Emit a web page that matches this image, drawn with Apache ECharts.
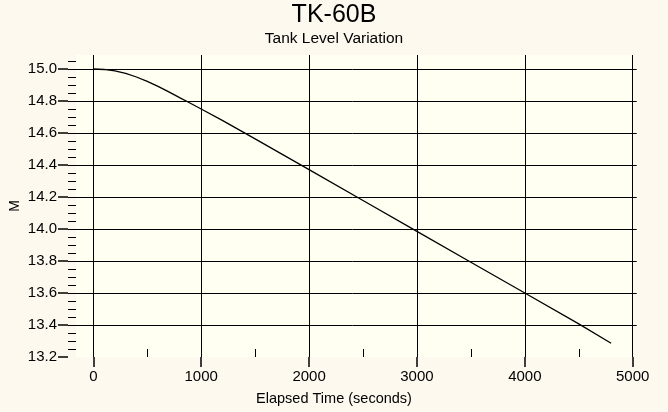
<!DOCTYPE html>
<html>
<head>
<meta charset="utf-8">
<script src="https://cdn.jsdelivr.net/npm/echarts@6/dist/echarts.min.js"></script>
<style>
  html, body { margin: 0; padding: 0; background: #fdf9ef; }
  #chart { width: 668px; height: 412px; }
</style>
</head>
<body>
<div id="chart"></div>
<script>
// Texts
const chartTitle = 'TK-60B';
const chartSubtitle = 'Tank Level Variation';
const xAxisTitle = 'Elapsed Time (seconds)';
const yAxisTitle = 'M';

// Tank level (m) over elapsed time (s)
const elapsedSeconds = [0, 100, 200, 300, 400, 500, 600, 700, 800, 900, 1000, 1200, 1500, 2000, 2500, 3000, 3500, 4000, 4500, 4800];
const tankLevel = [15.000, 14.997, 14.988, 14.972, 14.950, 14.923, 14.891, 14.857, 14.821, 14.786, 14.750, 14.677, 14.563, 14.371, 14.178, 13.985, 13.792, 13.600, 13.407, 13.286];

// Axis scales
const xMin = 0, xMax = 5000, xStep = 1000, xMinorStep = 500;
const yMin = 13.2, yMax = 15.0, yStep = 0.2, yMinorStep = 0.05;
const yMinorMin = 13.25, yMinorMax = 15.05;
const yPlotTop = 15.0875;

const FONT = '"Liberation Sans", Arial, sans-serif';
const INK = '#000';

const chart = echarts.init(document.getElementById('chart'));

chart.setOption({
  animation: false,
  backgroundColor: '#fdf9ef',
  textStyle: { fontFamily: FONT, color: INK },
  title: [
    {
      text: chartTitle,
      subtext: chartSubtitle,
      left: 'center',
      top: -2,
      itemGap: 3,
      textStyle: { fontFamily: FONT, fontSize: 25, fontWeight: 'normal', color: INK },
      subtextStyle: { fontFamily: FONT, fontSize: 15.5, color: INK }
    },
    {
      text: xAxisTitle,
      left: 'center',
      top: 386,
      textStyle: { fontFamily: FONT, fontSize: 14.5, fontWeight: 'normal', color: INK }
    }
  ],
  grid: [
    // plot background
    { left: 68, right: 35.3, top: 55, bottom: 55, show: true, backgroundColor: '#fffff2', borderWidth: 0 },
    // data area
    { left: 93.3, right: 35.3, top: 55, bottom: 55 },
    // horizontal rules + level labels
    { left: 68, right: 31.3, top: 69, bottom: 55 },
    // minor level ticks
    { left: 68, right: 31.3, top: 61, bottom: 63 }
  ],
  xAxis: [
    { gridIndex: 0, type: 'value', show: false },
    {
      gridIndex: 1, type: 'value', min: xMin, max: xMax, interval: xStep,
      axisLine: { show: false },
      axisTick: { show: true, length: 10, lineStyle: { color: INK, width: 1.5 } },
      axisLabel: { fontFamily: FONT, fontSize: 15, color: INK, margin: 12,
        formatter: v => String(v) },
      splitLine: { show: true, lineStyle: { color: INK, width: 1 } }
    },
    {
      gridIndex: 1, type: 'value', min: xMin, max: xMax, interval: xMinorStep, position: 'bottom',
      axisLine: { show: false },
      axisTick: { show: true, inside: true, length: 8, lineStyle: { color: INK, width: 1 } },
      axisLabel: { show: false },
      splitLine: { show: false }
    },
    { gridIndex: 2, type: 'value', show: false },
    { gridIndex: 3, type: 'value', show: false }
  ],
  yAxis: [
    {
      gridIndex: 0, type: 'value', min: yMin, max: yPlotTop,
      name: yAxisTitle, nameLocation: 'middle', nameGap: 54, nameRotate: 90,
      nameTextStyle: { fontFamily: FONT, fontSize: 14, color: INK },
      axisLine: { show: false }, axisTick: { show: false },
      axisLabel: { show: false }, splitLine: { show: false }
    },
    { gridIndex: 1, type: 'value', min: yMin, max: yPlotTop, show: false },
    {
      gridIndex: 2, type: 'value', min: yMin, max: yMax, interval: yStep,
      axisLine: { show: false },
      axisTick: { show: true, length: 10, lineStyle: { color: INK, width: 1.5 } },
      axisLabel: { fontFamily: FONT, fontSize: 15, color: INK, margin: 11,
        formatter: v => v.toFixed(1) },
      splitLine: { show: true, showMinLine: false, lineStyle: { color: INK, width: 1 } }
    },
    {
      gridIndex: 3, type: 'value', min: yMinorMin, max: yMinorMax, interval: yMinorStep,
      axisLine: { show: false },
      axisTick: { show: true, inside: true, length: 8, lineStyle: { color: INK, width: 1 } },
      axisLabel: { show: false },
      splitLine: { show: false }
    }
  ],
  series: [
    {
      type: 'line',
      xAxisIndex: 1,
      yAxisIndex: 1,
      data: elapsedSeconds.map((t, i) => [t, tankLevel[i]]),
      showSymbol: false,
      smooth: false,
      lineStyle: { color: INK, width: 1.3 }
    }
  ]
});
</script>
</body>
</html>
